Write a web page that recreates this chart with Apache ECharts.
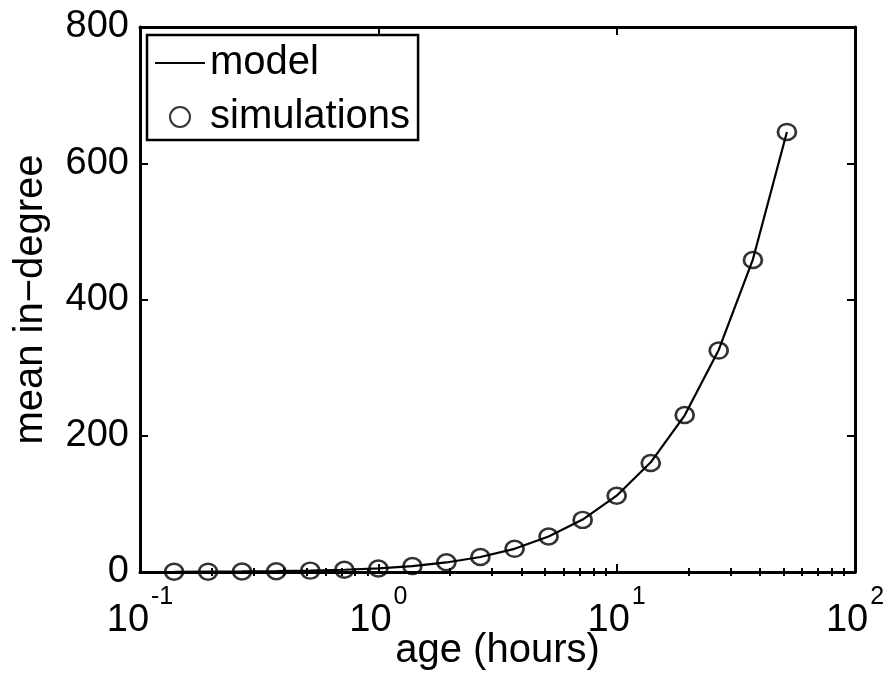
<!DOCTYPE html>
<html>
<head>
<meta charset="utf-8">
<script src="https://cdn.jsdelivr.net/npm/echarts@6/dist/echarts.min.js"></script>
<style>
  html, body { margin: 0; padding: 0; background: #fff; }
  #chart { width: 890px; height: 676px; }
</style>
</head>
<body>
<div id="chart"></div>
<script>
// Sampled ages (hours), one per 1/7 decade
const ages = [0.139, 0.193, 0.268, 0.373, 0.518, 0.72, 1, 1.39, 1.93, 2.68, 3.73, 5.18, 7.2, 10, 13.9, 19.3, 26.8, 37.3, 51.8];
// Mean in-degree from the analytical model
const modelValues = [0.3, 0.5, 0.8, 1.3, 2.0, 3.3, 5.3, 8.7, 14, 22, 34, 52, 77, 112, 161, 230, 326, 459, 646];
// Mean in-degree averaged over simulation runs
const simValues = [0.3, 0.5, 0.8, 1.2, 2.0, 3.2, 5.2, 8.8, 14.2, 22, 34, 52, 76.5, 112, 160, 230.5, 325, 458, 646];
// Decade ticks and in-between minor ticks for the log axis
const decadeTicks = [0.1, 1, 10, 100];
const minorTicks = [0.2, 0.3, 0.4, 0.5, 0.6, 0.7, 0.8, 0.9, 2, 3, 4, 5, 6, 7, 8, 9, 20, 30, 40, 50, 60, 70, 80, 90];
const yTicks = [0, 200, 400, 600, 800];

const FONT = "'Liberation Sans', Arial, Helvetica, sans-serif";

const pairs = (xs, ys) => xs.map((x, i) => [x, ys[i]]);

function logAxis(opts) {
  return Object.assign({
    type: 'log',
    logBase: 10,
    min: 0.1,
    max: 100,
    gridIndex: 0,
    splitLine: { show: false },
    axisLine: { show: false },
    axisLabel: { show: false },
    axisTick: { show: false },
    axisPointer: { show: false }
  }, opts);
}

const chart = echarts.init(document.getElementById('chart'), null, { renderer: 'canvas' });

chart.setOption({
  backgroundColor: '#ffffff',
  animation: false,
  grid: { left: 140, right: 35, top: 27, bottom: 104, containLabel: false, outerBoundsMode: 'none' },
  legend: {
    orient: 'vertical',
    left: 147,
    top: 35,
    data: [
      { name: 'model', icon: 'path://M0 0H100V4H0Z' },
      { name: 'simulations' }
    ],
    backgroundColor: '#ffffff',
    borderColor: '#000',
    borderWidth: 2.5,
    borderRadius: 0,
    padding: [8, 8, 3, 8],
    itemGap: 14,
    itemWidth: 50,
    itemHeight: 20,
    selectedMode: false,
    textStyle: { fontFamily: FONT, fontSize: 40, color: '#000' }
  },
  xAxis: [
    logAxis({
      position: 'bottom',
      name: 'age (hours)',
      nameLocation: 'middle',
      nameGap: 59,
      nameMoveOverlap: false,
      nameTextStyle: { fontFamily: FONT, fontSize: 40, color: '#000' },
      axisLine: { show: true, onZero: false, lineStyle: { color: '#000', width: 3 } },
      axisTick: { show: true, inside: true, length: 8, customValues: decadeTicks, lineStyle: { color: '#000', width: 2 } },
      axisLabel: {
        show: true,
        margin: 13,
        customValues: decadeTicks,
        formatter: v => '{b|10}{s|' + Math.round(Math.log10(v)) + '}',
        rich: {
          b: { fontFamily: FONT, fontSize: 38, color: '#000', lineHeight: 55, verticalAlign: 'bottom' },
          s: { fontFamily: FONT, fontSize: 25, color: '#000', lineHeight: 25, verticalAlign: 'top', padding: [0, 0, 0, 2] }
        }
      }
    }),
    logAxis({
      position: 'bottom',
      axisTick: { show: true, inside: true, length: 4, customValues: minorTicks, lineStyle: { color: '#000', width: 2 } }
    }),
    logAxis({
      position: 'top',
      axisLine: { show: true, onZero: false, lineStyle: { color: '#000', width: 3 } },
      axisTick: { show: true, inside: true, length: 8, customValues: decadeTicks, lineStyle: { color: '#000', width: 2 } }
    }),
    logAxis({
      position: 'top',
      axisTick: { show: true, inside: true, length: 4, customValues: minorTicks, lineStyle: { color: '#000', width: 2 } }
    })
  ],
  yAxis: [
    {
      type: 'value',
      position: 'left',
      min: 0,
      max: 800,
      interval: 200,
      name: 'mean in\u2212degree',
      nameLocation: 'middle',
      nameGap: 89,
      nameMoveOverlap: false,
      nameTextStyle: { fontFamily: FONT, fontSize: 40, color: '#000' },
      splitLine: { show: false },
      axisLine: { show: true, onZero: false, lineStyle: { color: '#000', width: 3 } },
      axisTick: { show: true, inside: true, length: 8, lineStyle: { color: '#000', width: 2 } },
      axisLabel: {
        margin: 11,
        fontFamily: FONT, fontSize: 38, color: '#000',
        customValues: yTicks
      }
    },
    {
      type: 'value',
      position: 'right',
      min: 0,
      max: 800,
      interval: 200,
      splitLine: { show: false },
      axisLine: { show: true, onZero: false, lineStyle: { color: '#000', width: 3 } },
      axisTick: { show: true, inside: true, length: 8, lineStyle: { color: '#000', width: 2 } },
      axisLabel: { show: false }
    }
  ],
  series: [
    {
      name: 'model',
      type: 'line',
      xAxisIndex: 0,
      yAxisIndex: 0,
      data: pairs(ages, modelValues),
      symbol: 'none',
      smooth: false,
      clip: false,
      lineStyle: { color: '#000', width: 2.2 },
      itemStyle: { color: '#000' },
      z: 3
    },
    {
      name: 'simulations',
      type: 'scatter',
      xAxisIndex: 0,
      yAxisIndex: 0,
      data: pairs(ages, simValues),
      symbol: 'circle',
      symbolSize: [18, 16],
      clip: false,
      itemStyle: { color: 'rgba(0,0,0,0)', borderColor: '#000', borderWidth: 2.6 },
      z: 4
    }
  ]
});
</script>
</body>
</html>
